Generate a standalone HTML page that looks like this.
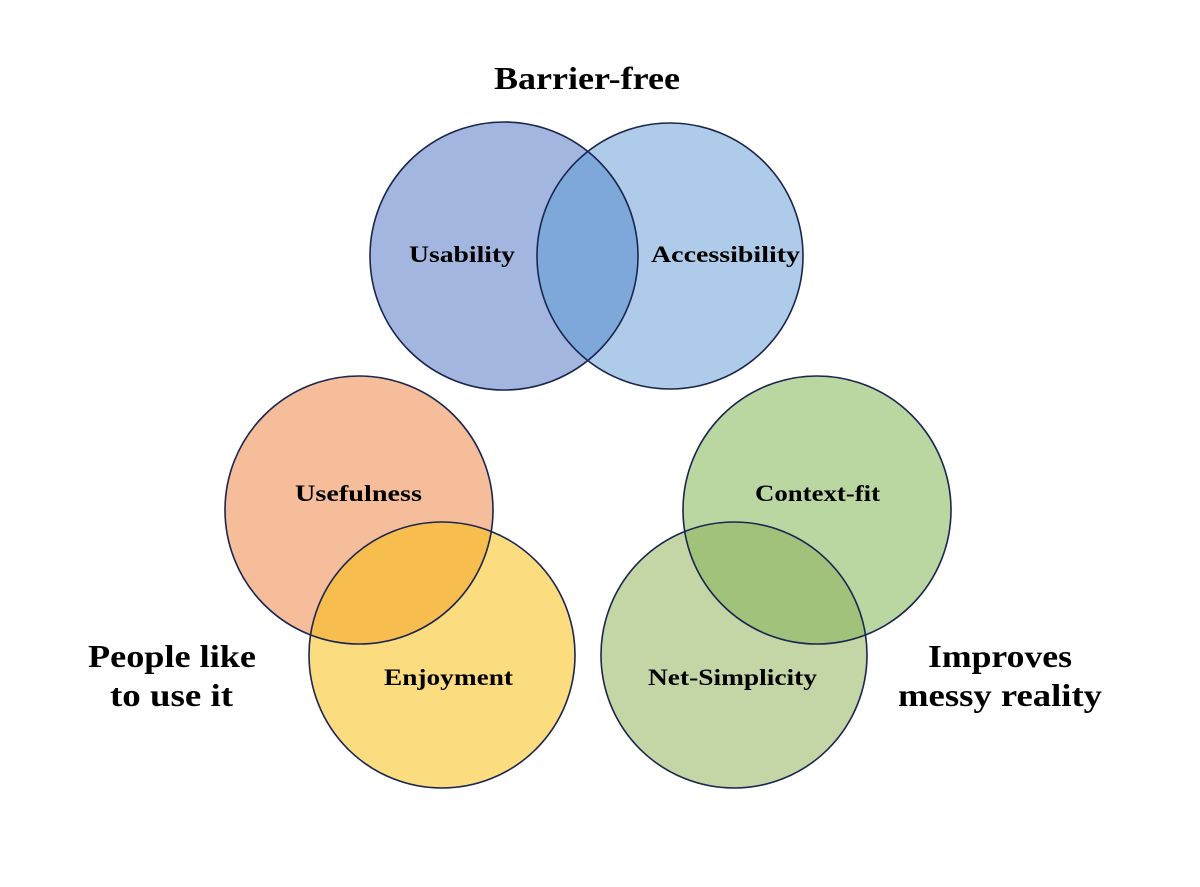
<!DOCTYPE html>
<html><head><meta charset="utf-8"><style>
html,body{margin:0;padding:0;background:#fff;}
svg{display:block;}
text{font-family:"Liberation Serif",serif;font-weight:bold;fill:#000;}
</style></head><body>
<svg width="1200" height="887" viewBox="0 0 1200 887" xmlns="http://www.w3.org/2000/svg">
<defs>
<clipPath id="cU"><circle cx="504" cy="256" r="134"/></clipPath>
<clipPath id="cUs"><circle cx="359" cy="510" r="134"/></clipPath>
<clipPath id="cC"><circle cx="817" cy="510" r="134"/></clipPath>
</defs>
<circle cx="504" cy="256" r="134" fill="#a2b6e0"/>
<circle cx="670" cy="256" r="133" fill="#aecbe9"/>
<circle cx="670" cy="256" r="133" fill="#7ea8d9" clip-path="url(#cU)"/>
<circle cx="359" cy="510" r="134" fill="#f5bd9a"/>
<circle cx="442" cy="655" r="133" fill="#fbdd80"/>
<circle cx="442" cy="655" r="133" fill="#f8bd4f" clip-path="url(#cUs)"/>
<circle cx="817" cy="510" r="134" fill="#bad7a2"/>
<circle cx="734" cy="655" r="133" fill="#c4d6a6"/>
<circle cx="734" cy="655" r="133" fill="#a0c27a" clip-path="url(#cC)"/>
<g fill="none" stroke="#1a2550" stroke-width="1.6">
<circle cx="504" cy="256" r="134"/>
<circle cx="670" cy="256" r="133"/>
<circle cx="359" cy="510" r="134"/>
<circle cx="442" cy="655" r="133"/>
<circle cx="817" cy="510" r="134"/>
<circle cx="734" cy="655" r="133"/>
</g>
<g font-size="23" text-anchor="middle" lengthAdjust="spacingAndGlyphs">
<text x="462" y="262" textLength="106" lengthAdjust="spacingAndGlyphs">Usability</text>
<text x="725.5" y="262" textLength="149" lengthAdjust="spacingAndGlyphs">Accessibility</text>
<text x="358.5" y="501" textLength="127" lengthAdjust="spacingAndGlyphs">Usefulness</text>
<text x="448.5" y="685" textLength="129" lengthAdjust="spacingAndGlyphs">Enjoyment</text>
<text x="817.5" y="501" textLength="125" lengthAdjust="spacingAndGlyphs">Context-fit</text>
<text x="732.5" y="685" textLength="169" lengthAdjust="spacingAndGlyphs">Net-Simplicity</text>
</g>
<g font-size="32" text-anchor="middle">
<text x="587" y="89" textLength="186" lengthAdjust="spacingAndGlyphs">Barrier-free</text>
<text x="172" y="667" textLength="168" lengthAdjust="spacingAndGlyphs">People like</text>
<text x="171.5" y="706" textLength="123" lengthAdjust="spacingAndGlyphs">to use it</text>
<text x="1000" y="667" textLength="144" lengthAdjust="spacingAndGlyphs">Improves</text>
<text x="1000" y="706" textLength="204" lengthAdjust="spacingAndGlyphs">messy reality</text>
</g>
</svg>
</body></html>
